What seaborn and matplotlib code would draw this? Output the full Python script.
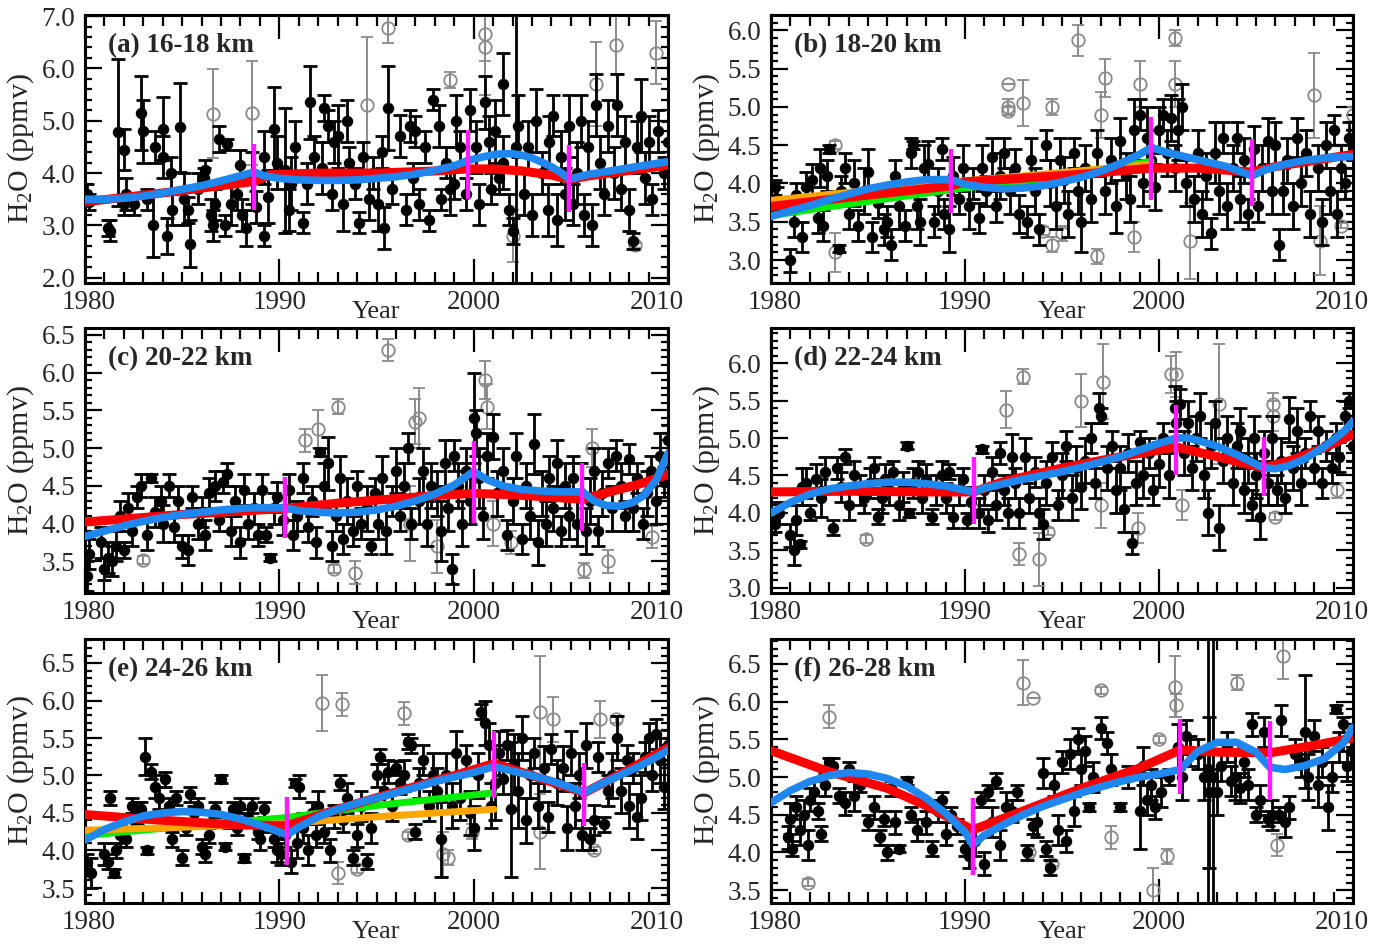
import matplotlib
matplotlib.use("Agg")
import matplotlib.pyplot as plt
import matplotlib.transforms as mtrans
from matplotlib.ticker import MultipleLocator, FormatStrFormatter, NullFormatter
import seaborn as sns

# ---------------- observations: (year, H2O ppmv, 1-sigma) ----------------
obs_a = [
    (1980.1, 3.6, 0.2), (1980.2, 3.45, 0.15), (1981.2, 2.95, 0.15), (1981.3, 2.9, 0.2),
    (1981.7, 4.78, 1.4), (1982.0, 4.45, 0.4), (1982.1, 3.6, 0.3), (1982.0, 3.4, 0.2),
    (1982.9, 5.15, 0.7), (1983.0, 4.8, 0.6), (1983.2, 3.5, 0.2), (1982.5, 3.4, 0.2),
    (1983.5, 3.0, 0.6), (1983.6, 4.5, 0.3), (1984.0, 4.85, 0.6), (1984.0, 4.3, 0.4),
    (1984.2, 2.8, 0.35), (1984.4, 4.0, 0.3), (1984.5, 3.3, 0.3), (1984.9, 4.88, 0.85),
    (1985.1, 3.5, 0.5), (1985.4, 2.65, 0.45), (1985.3, 3.3, 0.25), (1985.8, 3.7, 0.3),
    (1986.1, 3.9, 0.2), (1986.2, 4.05, 0.2), (1986.5, 3.2, 0.3), (1986.7, 3.4, 0.3),
    (1986.6, 3.0, 0.3), (1986.9, 4.65, 0.25), (1987.3, 4.55, 0.1), (1987.2, 3.0, 0.2),
    (1987.5, 3.4, 0.4), (1987.8, 3.6, 0.3), (1988.0, 4.15, 0.3), (1988.1, 3.2, 0.3),
    (1988.3, 2.95, 0.35), (1988.8, 3.35, 0.3), (1988.6, 3.9, 0.5), (1989.2, 2.8, 0.2),
    (1989.7, 4.85, 0.8), (1989.4, 3.55, 0.5), (1989.9, 4.2, 0.5), (1989.2, 4.3, 0.5),
    (1990.3, 4.05, 1.2), (1990.5, 3.3, 0.4), (1990.6, 3.8, 0.5), (1990.8, 4.5, 0.5),
    (1991.2, 3.05, 0.2), (1991.6, 5.35, 0.7), (1991.4, 3.8, 0.4), (1991.8, 4.3, 0.4),
    (1992.3, 5.25, 0.25), (1992.5, 4.9, 0.3), (1992.2, 4.1, 0.5), (1992.7, 3.6, 0.3),
    (1992.8, 4.6, 0.4), (1993.0, 4.7, 0.6), (1993.5, 5.0, 0.4), (1993.3, 3.4, 0.5),
    (1993.6, 4.2, 0.3), (1993.9, 3.8, 0.3), (1994.1, 3.05, 0.2), (1994.3, 4.3, 0.3),
    (1994.6, 3.5, 0.4), (1994.8, 4.0, 0.3), (1995.1, 3.4, 0.5), (1995.3, 4.4, 0.3),
    (1995.6, 5.25, 0.8), (1995.4, 2.95, 0.4), (1995.8, 3.7, 0.3), (1996.2, 4.7, 0.4),
    (1996.5, 3.3, 0.3), (1996.7, 4.9, 0.3), (1996.9, 3.9, 0.3), (1997.0, 4.8, 0.3),
    (1997.2, 3.4, 0.3), (1997.5, 4.5, 0.3), (1997.7, 3.1, 0.2), (1997.9, 5.4, 0.2),
    (1998.2, 4.9, 0.4), (1998.3, 3.5, 0.2), (1998.6, 4.2, 0.3), (1998.8, 3.7, 0.5),
    (1999.1, 5.0, 0.5), (1999.0, 3.8, 0.3), (1999.3, 4.5, 0.3), (1999.6, 3.6, 0.3),
    (1999.8, 5.2, 0.4), (2000.1, 4.5, 0.5), (2000.3, 3.4, 0.4), (2000.6, 5.35, 0.5),
    (2000.8, 4.6, 0.5), (2000.9, 3.7, 0.3), (2001.1, 4.8, 0.6), (2001.3, 3.9, 0.3),
    (2001.5, 4.2, 0.5), (2001.8, 3.3, 0.3), (2001.5, 5.7, 0.6), (2002.0, 2.9, 0.25),
    (2002.2, 4.5, 2.6), (2002.3, 4.9, 0.6), (2002.6, 3.6, 0.4), (2002.8, 4.5, 0.5),
    (2003.0, 3.2, 0.4), (2003.2, 5.0, 0.6), (2003.5, 4.0, 0.4), (2003.8, 3.3, 0.5),
    (2003.9, 4.6, 0.5), (2004.1, 5.1, 0.4), (2004.3, 3.1, 0.5), (2004.5, 4.3, 0.5),
    (2004.7, 3.6, 0.5), (2004.9, 4.9, 0.6), (2005.1, 3.4, 0.4), (2005.3, 4.0, 0.6),
    (2005.5, 5.0, 0.5), (2005.7, 3.2, 0.4), (2005.9, 4.5, 0.5), (2006.1, 3.0, 0.4),
    (2006.3, 5.3, 0.6), (2006.5, 4.2, 0.5), (2006.7, 3.6, 0.4), (2006.9, 4.9, 0.5),
    (2007.2, 4.0, 0.5), (2007.4, 5.3, 0.6), (2007.6, 3.7, 0.4), (2007.8, 4.6, 0.5),
    (2008.0, 3.3, 0.4), (2008.2, 2.7, 0.15), (2008.4, 4.5, 0.5), (2008.6, 5.1, 0.7),
    (2008.8, 3.9, 0.5), (2009.0, 4.6, 0.5), (2009.2, 3.5, 0.3), (2009.5, 4.8, 0.4),
    (2009.8, 4.0, 0.3), (2010.0, 4.6, 0.4),
]
out_a = [
    (1986.6, 5.13, 0.85), (1988.6, 5.15, 1.0), (1994.5, 5.3, 1.3), (1995.6, 6.78, 0.3),
    (1998.8, 5.78, 0.15), (2000.6, 6.65, 0.5), (2000.6, 6.4, 0.9), (2002.0, 2.8, 0.5),
    (2006.3, 5.7, 0.8), (2007.3, 6.45, 0.55), (2008.3, 2.62, 0.05), (2009.4, 6.3, 0.6),
]

obs_b = [
    (1980.2, 3.95, 0.1), (1980.3, 3.8, 0.15), (1981.0, 3.0, 0.15), (1981.2, 3.5, 0.2),
    (1981.3, 3.85, 0.15), (1981.6, 3.3, 0.2), (1981.8, 3.95, 0.2), (1982.1, 4.05, 0.2),
    (1982.4, 3.55, 0.2), (1982.7, 3.45, 0.2), (1982.9, 4.1, 0.2), (1982.5, 4.2, 0.25),
    (1983.0, 4.45, 0.05), (1983.5, 3.15, 0.05), (1983.6, 3.9, 0.2), (1983.8, 4.2, 0.2),
    (1984.0, 3.6, 0.2), (1984.3, 4.0, 0.3), (1984.5, 3.45, 0.2), (1984.8, 3.9, 0.3),
    (1985.0, 4.15, 0.3), (1985.2, 3.3, 0.2), (1985.5, 3.75, 0.2), (1985.8, 3.4, 0.2),
    (1986.0, 3.5, 0.2), (1986.2, 3.2, 0.2), (1986.4, 4.1, 0.2), (1986.6, 3.7, 0.3),
    (1986.9, 3.45, 0.2), (1987.2, 4.4, 0.2), (1987.3, 4.5, 0.05), (1987.5, 3.7, 0.3),
    (1987.7, 3.5, 0.3), (1987.9, 4.2, 0.3), (1988.1, 4.25, 0.3), (1988.4, 3.5, 0.2),
    (1988.6, 3.9, 0.3), (1988.8, 4.45, 0.15), (1988.9, 3.6, 0.2), (1989.2, 3.4, 0.3),
    (1989.4, 4.1, 0.25), (1989.7, 3.8, 0.2), (1989.9, 4.2, 0.3), (1990.2, 3.7, 0.3),
    (1990.4, 4.0, 0.2), (1990.7, 3.55, 0.2), (1990.9, 4.2, 0.3), (1991.1, 3.9, 0.2),
    (1991.4, 4.35, 0.25), (1991.6, 3.7, 0.2), (1991.8, 4.1, 0.3), (1992.0, 4.4, 0.2),
    (1992.3, 3.9, 0.3), (1992.6, 4.2, 0.25), (1992.8, 3.6, 0.25), (1993.2, 3.5, 0.2),
    (1993.4, 4.3, 0.3), (1993.6, 3.9, 0.3), (1993.8, 3.4, 0.2), (1994.2, 4.5, 0.2),
    (1994.4, 4.0, 0.3), (1994.7, 3.7, 0.3), (1994.9, 4.3, 0.3), (1995.1, 4.05, 0.3),
    (1995.3, 3.6, 0.3), (1995.6, 4.4, 0.2), (1995.8, 3.9, 0.3), (1996.0, 3.5, 0.4),
    (1996.2, 4.2, 0.3), (1996.5, 3.8, 0.3), (1996.8, 4.4, 0.3), (1997.2, 3.9, 0.3),
    (1997.5, 4.3, 0.3), (1997.8, 3.7, 0.35), (1998.0, 4.55, 0.3), (1998.3, 4.1, 0.3),
    (1998.5, 3.8, 0.3), (1998.7, 4.7, 0.4), (1999.0, 4.9, 0.2), (1999.2, 4.0, 0.3),
    (1999.4, 4.6, 0.4), (1999.6, 4.3, 0.4), (1999.8, 3.95, 0.3), (2000.0, 4.7, 0.3),
    (2000.2, 4.9, 0.2), (2000.4, 4.4, 0.3), (2000.6, 4.85, 0.3), (2000.8, 4.2, 0.3),
    (2001.0, 4.7, 0.4), (2001.2, 5.0, 0.3), (2001.4, 4.0, 0.3), (2001.8, 3.8, 0.3),
    (2002.0, 4.4, 0.3), (2002.2, 3.6, 0.3), (2002.4, 4.1, 0.3), (2002.7, 3.35, 0.2),
    (2002.9, 4.4, 0.4), (2003.1, 3.9, 0.3), (2003.3, 4.6, 0.2), (2003.5, 3.7, 0.3),
    (2003.8, 4.2, 0.3), (2004.0, 4.6, 0.2), (2004.2, 3.8, 0.3), (2004.4, 4.3, 0.3),
    (2004.6, 3.6, 0.2), (2004.9, 4.45, 0.3), (2005.1, 3.7, 0.2), (2005.3, 4.2, 0.3),
    (2005.6, 4.55, 0.3), (2005.8, 3.9, 0.3), (2006.0, 4.5, 0.3), (2006.2, 3.2, 0.2),
    (2006.4, 3.9, 0.3), (2006.6, 4.3, 0.3), (2006.9, 3.7, 0.3), (2007.1, 4.6, 0.25),
    (2007.3, 4.0, 0.3), (2007.6, 4.4, 0.3), (2007.8, 3.6, 0.3), (2008.2, 4.2, 0.3),
    (2008.4, 3.5, 0.3), (2008.6, 4.5, 0.3), (2008.8, 3.9, 0.3), (2009.0, 4.7, 0.2),
    (2009.2, 3.6, 0.3), (2009.4, 4.2, 0.3), (2009.6, 4.0, 0.2), (2009.8, 4.6, 0.2),
    (2010.0, 4.5, 0.2),
]
out_b = [
    (1983.3, 4.5, 0.05), (1983.3, 3.1, 0.25), (1992.2, 5.3, 0.0), (1992.2, 5.0, 0.1),
    (1992.2, 4.95, 0.05), (1993.0, 5.05, 0.3), (1994.0, 3.38, 0.05), (1994.5, 3.2, 0.1),
    (1994.5, 5.0, 0.1), (1995.0, 3.35, 0.1), (1995.8, 5.87, 0.2), (1996.8, 3.05, 0.1),
    (1997.0, 4.9, 0.3), (1997.2, 5.38, 0.25), (1998.7, 3.3, 0.2), (1999.0, 5.3, 0.3),
    (2000.8, 5.9, 0.1), (2000.8, 5.3, 0.3), (2001.6, 3.25, 0.5), (2008.0, 5.15, 0.55),
    (2008.3, 3.25, 0.45), (2009.4, 3.45, 0.03), (2010.0, 4.9, 0.1),
]

obs_c = [
    (1980.1, 3.3, 0.2), (1980.2, 3.6, 0.2), (1980.8, 3.75, 0.2), (1981.0, 3.4, 0.15),
    (1981.2, 3.55, 0.2), (1981.4, 3.5, 0.2), (1981.6, 3.7, 0.2), (1981.8, 4.1, 0.2),
    (1982.0, 3.65, 0.1), (1982.2, 4.2, 0.2), (1982.4, 3.9, 0.2), (1982.7, 4.35, 0.15),
    (1982.9, 4.5, 0.15), (1983.2, 3.85, 0.2), (1983.4, 4.6, 0.05), (1983.6, 4.15, 0.2),
    (1983.9, 4.3, 0.2), (1984.0, 4.0, 0.25), (1984.3, 4.5, 0.15), (1984.6, 3.95, 0.2),
    (1984.8, 4.3, 0.2), (1985.0, 3.7, 0.15), (1985.3, 3.65, 0.2), (1985.5, 4.35, 0.15),
    (1985.8, 4.0, 0.2), (1986.0, 4.15, 0.2), (1986.2, 3.85, 0.2), (1986.4, 4.4, 0.2),
    (1986.7, 4.5, 0.2), (1986.9, 4.05, 0.15), (1987.1, 4.55, 0.15), (1987.3, 4.65, 0.15),
    (1987.5, 3.9, 0.2), (1987.7, 4.3, 0.2), (1988.0, 3.75, 0.2), (1988.2, 4.45, 0.2),
    (1988.4, 4.0, 0.2), (1988.7, 4.2, 0.2), (1988.9, 3.85, 0.15), (1989.1, 4.45, 0.2),
    (1989.3, 3.85, 0.1), (1989.5, 3.55, 0.05), (1989.7, 4.2, 0.2), (1989.9, 4.35, 0.2),
    (1990.2, 4.05, 0.2), (1990.5, 4.45, 0.2), (1990.7, 3.85, 0.2), (1990.9, 4.1, 0.2),
    (1991.2, 4.6, 0.2), (1991.5, 3.95, 0.2), (1991.7, 4.3, 0.2), (1991.9, 3.75, 0.2),
    (1992.1, 4.95, 0.05), (1992.3, 4.5, 0.3), (1992.5, 4.8, 0.35), (1992.7, 3.7, 0.2),
    (1992.9, 4.1, 0.2), (1993.1, 4.6, 0.3), (1993.3, 3.8, 0.2), (1993.5, 4.3, 0.3),
    (1993.8, 3.9, 0.2), (1994.0, 4.5, 0.2), (1994.2, 4.0, 0.2), (1994.5, 4.2, 0.3),
    (1994.7, 3.7, 0.1), (1994.9, 4.4, 0.2), (1995.1, 4.0, 0.2), (1995.3, 4.6, 0.3),
    (1995.5, 3.9, 0.3), (1995.8, 4.3, 0.2), (1996.0, 4.7, 0.3), (1996.2, 4.1, 0.2),
    (1996.4, 4.5, 0.3), (1996.6, 5.0, 0.2), (1996.8, 4.0, 0.2), (1997.2, 4.3, 0.3),
    (1997.4, 4.7, 0.3), (1997.6, 4.0, 0.3), (1997.8, 4.5, 0.3), (1998.1, 4.4, 0.3),
    (1998.3, 3.9, 0.4), (1998.5, 4.8, 0.3), (1998.7, 4.2, 0.3), (1998.9, 3.4, 0.2),
    (1999.0, 4.9, 0.2), (1999.2, 4.5, 0.3), (1999.4, 4.0, 0.3), (1999.6, 4.7, 0.3),
    (1999.8, 4.3, 0.3), (2000.0, 5.4, 0.6), (2000.1, 5.2, 0.3), (2000.3, 4.6, 0.4),
    (2000.5, 4.1, 0.3), (2000.7, 4.9, 0.3), (2001.0, 5.15, 0.3), (2001.2, 4.4, 0.3),
    (2001.5, 4.7, 0.3), (2001.7, 3.85, 0.2), (2002.0, 4.3, 0.3), (2002.2, 4.9, 0.3),
    (2002.5, 3.8, 0.2), (2002.7, 4.5, 0.3), (2002.9, 4.1, 0.3), (2003.1, 5.05, 0.4),
    (2003.3, 3.75, 0.3), (2003.5, 4.4, 0.3), (2003.7, 4.0, 0.3), (2003.9, 4.6, 0.3),
    (2004.1, 4.2, 0.3), (2004.3, 4.8, 0.3), (2004.5, 3.9, 0.2), (2004.7, 4.5, 0.3),
    (2004.9, 4.1, 0.3), (2005.1, 4.6, 0.3), (2005.3, 4.0, 0.3), (2005.5, 4.4, 0.4),
    (2005.8, 3.9, 0.3), (2006.0, 4.3, 0.3), (2006.2, 4.7, 0.3), (2006.4, 3.9, 0.2),
    (2006.6, 4.4, 0.3), (2006.9, 4.8, 0.2), (2007.1, 4.2, 0.3), (2007.3, 4.9, 0.2),
    (2007.6, 4.5, 0.3), (2007.8, 4.1, 0.2), (2008.0, 4.85, 0.2), (2008.2, 4.2, 0.3),
    (2008.4, 4.6, 0.2), (2008.7, 4.0, 0.2), (2008.9, 4.4, 0.3), (2009.1, 4.7, 0.2),
    (2009.4, 4.3, 0.3), (2009.6, 4.9, 0.3), (2009.8, 4.55, 0.2), (2010.0, 5.1, 0.2),
]
out_c = [
    (1983.0, 3.52, 0.05), (1991.3, 5.1, 0.15), (1992.0, 5.25, 0.25), (1992.8, 3.4, 0.05),
    (1993.0, 5.55, 0.1), (1993.9, 3.35, 0.15), (1995.6, 6.3, 0.15), (1996.7, 4.0, 0.5),
    (1997.0, 5.35, 0.3), (1997.2, 5.4, 0.4), (1998.1, 3.7, 0.35), (2000.6, 5.9, 0.25),
    (2000.7, 5.55, 0.3), (2001.0, 4.0, 0.3), (2001.9, 3.75, 0.15), (2005.7, 3.38, 0.1),
    (2006.1, 5.0, 0.25), (2006.9, 3.5, 0.15), (2009.2, 3.82, 0.15),
]

obs_d = [
    (1980.2, 3.85, 0.1), (1980.4, 4.0, 0.15), (1981.0, 3.7, 0.15), (1981.2, 3.5, 0.2),
    (1981.3, 3.9, 0.2), (1981.5, 3.58, 0.05), (1981.6, 4.35, 0.25), (1981.8, 4.4, 0.2),
    (1982.0, 4.0, 0.1), (1982.3, 4.45, 0.2), (1982.6, 4.2, 0.25), (1982.8, 4.55, 0.2),
    (1983.2, 3.8, 0.1), (1983.4, 4.6, 0.15), (1983.6, 4.35, 0.2), (1983.8, 4.75, 0.1),
    (1984.0, 4.1, 0.2), (1984.3, 4.5, 0.2), (1984.6, 4.3, 0.2), (1984.8, 4.2, 0.2),
    (1985.1, 4.4, 0.2), (1985.3, 4.6, 0.15), (1985.5, 3.95, 0.1), (1985.7, 4.2, 0.2),
    (1985.9, 4.45, 0.2), (1986.1, 4.3, 0.2), (1986.3, 4.55, 0.15), (1986.6, 4.1, 0.2),
    (1986.8, 4.35, 0.2), (1987.0, 4.9, 0.05), (1987.1, 4.0, 0.05), (1987.3, 4.4, 0.2),
    (1987.6, 4.55, 0.15), (1987.8, 4.2, 0.2), (1988.0, 4.45, 0.2), (1988.3, 3.95, 0.1),
    (1988.5, 4.3, 0.2), (1988.8, 4.5, 0.2), (1989.0, 4.2, 0.2), (1989.2, 4.55, 0.1),
    (1989.4, 3.95, 0.15), (1989.7, 4.3, 0.2), (1989.9, 4.45, 0.15), (1990.1, 3.9, 0.1),
    (1990.3, 4.15, 0.2), (1990.7, 4.0, 0.2), (1990.9, 4.85, 0.05), (1991.0, 4.3, 0.2),
    (1991.2, 3.9, 0.15), (1991.4, 4.55, 0.2), (1991.6, 4.1, 0.2), (1991.8, 4.8, 0.15),
    (1992.0, 4.3, 0.2), (1992.2, 4.0, 0.2), (1992.4, 4.75, 0.3), (1992.6, 4.4, 0.2),
    (1992.8, 4.0, 0.2), (1993.1, 4.75, 0.25), (1993.3, 4.2, 0.2), (1993.6, 4.55, 0.2),
    (1993.8, 4.0, 0.2), (1994.0, 3.85, 0.2), (1994.2, 4.4, 0.3), (1994.5, 4.75, 0.2),
    (1994.8, 4.1, 0.2), (1995.0, 4.5, 0.3), (1995.2, 4.9, 0.2), (1995.5, 4.2, 0.3),
    (1995.7, 4.6, 0.3), (1996.0, 4.35, 0.3), (1996.2, 4.7, 0.3), (1996.5, 5.0, 0.2),
    (1996.7, 4.4, 0.2), (1996.9, 5.4, 0.2), (1997.0, 5.3, 0.1), (1997.3, 4.6, 0.3),
    (1997.6, 4.9, 0.2), (1997.8, 4.3, 0.3), (1998.0, 4.6, 0.3), (1998.2, 4.05, 0.3),
    (1998.4, 4.8, 0.25), (1998.6, 3.6, 0.15), (1998.8, 4.4, 0.3), (1999.0, 4.95, 0.15),
    (1999.2, 4.5, 0.3), (1999.5, 4.8, 0.2), (1999.7, 4.3, 0.2), (2000.0, 4.65, 0.3),
    (2000.2, 5.0, 0.2), (2000.5, 4.5, 0.3), (2000.8, 5.4, 0.3), (2000.9, 5.2, 0.3),
    (2001.1, 5.45, 0.2), (2001.3, 4.8, 0.3), (2001.5, 5.2, 0.3), (2001.7, 4.6, 0.3),
    (2001.9, 5.0, 0.3), (2002.1, 5.3, 0.3), (2002.3, 4.5, 0.3), (2002.5, 4.0, 0.3),
    (2002.7, 4.9, 0.3), (2002.9, 5.2, 0.3), (2003.1, 3.8, 0.3), (2003.3, 4.7, 0.3),
    (2003.5, 5.0, 0.3), (2003.8, 4.4, 0.3), (2004.0, 4.9, 0.3), (2004.2, 5.1, 0.3),
    (2004.4, 4.3, 0.3), (2004.6, 4.7, 0.3), (2004.8, 4.1, 0.2), (2004.9, 5.0, 0.3),
    (2005.0, 4.5, 0.3), (2005.2, 3.95, 0.3), (2005.4, 4.8, 0.3), (2005.6, 4.4, 0.3),
    (2005.8, 5.0, 0.3), (2006.1, 4.3, 0.2), (2006.3, 4.7, 0.3), (2006.5, 4.2, 0.2),
    (2006.7, 5.25, 0.3), (2006.9, 4.6, 0.3), (2007.1, 5.1, 0.3), (2007.3, 4.4, 0.3),
    (2007.5, 4.8, 0.2), (2007.8, 5.3, 0.2), (2008.0, 4.6, 0.2), (2008.2, 5.1, 0.2),
    (2008.4, 4.4, 0.2), (2008.6, 4.9, 0.2), (2008.9, 4.6, 0.2), (2009.1, 5.0, 0.2),
    (2009.3, 4.75, 0.2), (2009.6, 5.3, 0.2), (2009.8, 5.5, 0.1), (2010.0, 4.9, 0.2),
]
out_d = [
    (1984.9, 3.65, 0.05), (1992.1, 5.38, 0.25), (1992.8, 3.45, 0.15), (1993.0, 5.82, 0.1),
    (1993.8, 3.38, 0.35), (1994.3, 3.75, 0.05), (1996.0, 5.5, 0.35), (1997.0, 4.1, 0.3),
    (1997.1, 5.75, 0.5), (1998.9, 3.8, 0.2), (2000.6, 5.85, 0.25), (2000.9, 5.85, 0.3),
    (2001.2, 4.1, 0.2), (2003.1, 5.45, 0.8), (2005.9, 5.45, 0.15), (2005.9, 5.3, 0.2),
    (2006.0, 3.95, 0.05), (2009.2, 4.3, 0.1),
]

obs_e = [
    (1980.1, 3.85, 0.1), (1980.3, 3.7, 0.2), (1981.0, 3.95, 0.15), (1981.2, 3.85, 0.1),
    (1981.3, 4.7, 0.1), (1981.5, 3.7, 0.05), (1981.6, 4.0, 0.1), (1981.8, 4.2, 0.15),
    (1982.1, 4.15, 0.1), (1982.4, 4.6, 0.1), (1982.7, 4.5, 0.15), (1982.9, 4.55, 0.1),
    (1983.1, 5.25, 0.25), (1983.2, 4.0, 0.05), (1983.4, 5.05, 0.1), (1983.6, 4.85, 0.15),
    (1983.8, 4.7, 0.15), (1984.1, 4.95, 0.1), (1984.3, 4.6, 0.1), (1984.5, 4.15, 0.1),
    (1984.7, 4.7, 0.1), (1985.0, 3.9, 0.1), (1985.2, 4.3, 0.1), (1985.4, 4.75, 0.1),
    (1985.6, 4.5, 0.1), (1985.8, 4.6, 0.1), (1986.0, 4.05, 0.1), (1986.2, 3.95, 0.1),
    (1986.4, 4.2, 0.1), (1986.7, 4.55, 0.1), (1987.0, 4.95, 0.05), (1987.2, 4.05, 0.05),
    (1987.4, 4.4, 0.1), (1987.6, 4.55, 0.1), (1987.8, 4.3, 0.1), (1988.0, 4.6, 0.1),
    (1988.2, 3.9, 0.05), (1988.4, 4.45, 0.1), (1988.6, 4.6, 0.1), (1988.9, 4.25, 0.1),
    (1989.0, 4.15, 0.15), (1989.2, 4.55, 0.1), (1989.5, 4.35, 0.1), (1989.7, 4.15, 0.1),
    (1989.9, 4.0, 0.15), (1990.1, 3.95, 0.15), (1990.3, 4.2, 0.15), (1990.6, 3.85, 0.15),
    (1990.8, 4.9, 0.05), (1990.9, 4.1, 0.2), (1991.0, 4.85, 0.15), (1991.2, 4.3, 0.2),
    (1991.5, 4.0, 0.2), (1991.7, 4.5, 0.15), (1991.9, 4.2, 0.15), (1992.0, 4.6, 0.2),
    (1992.3, 4.25, 0.15), (1992.6, 4.0, 0.15), (1992.8, 4.45, 0.15), (1993.1, 4.9, 0.1),
    (1993.3, 4.4, 0.15), (1993.5, 4.7, 0.2), (1993.8, 3.9, 0.1), (1994.0, 4.2, 0.15),
    (1994.2, 4.6, 0.2), (1994.5, 3.85, 0.1), (1994.7, 4.3, 0.2), (1995.0, 5.0, 0.15),
    (1995.2, 5.25, 0.1), (1995.4, 4.8, 0.2), (1995.6, 5.05, 0.15), (1995.8, 4.6, 0.2),
    (1996.0, 5.1, 0.1), (1996.2, 4.9, 0.15), (1996.4, 5.0, 0.2), (1996.6, 5.45, 0.1),
    (1996.8, 5.4, 0.1), (1997.0, 4.25, 0.1), (1997.2, 4.9, 0.2), (1997.4, 5.2, 0.2),
    (1997.7, 4.6, 0.2), (1997.9, 5.0, 0.3), (1998.1, 4.8, 0.3), (1998.3, 4.15, 0.5),
    (1998.6, 5.0, 0.3), (1998.9, 4.6, 0.3), (1999.1, 5.3, 0.3), (1999.3, 4.7, 0.3),
    (1999.6, 5.2, 0.2), (1999.8, 4.5, 0.3), (2000.0, 4.3, 0.3), (2000.2, 5.0, 0.3),
    (2000.4, 5.85, 0.1), (2000.6, 5.7, 0.3), (2000.8, 5.4, 0.3), (2000.9, 4.6, 0.3),
    (2001.1, 4.9, 0.5), (2001.3, 5.3, 0.3), (2001.5, 4.95, 0.2), (2001.7, 5.4, 0.2),
    (2001.9, 4.55, 0.9), (2002.1, 5.15, 0.4), (2002.3, 4.8, 0.5), (2002.5, 5.5, 0.3),
    (2002.7, 4.4, 0.3), (2002.9, 5.0, 0.3), (2003.1, 5.3, 0.2), (2003.3, 4.6, 0.3),
    (2003.6, 5.1, 0.3), (2003.8, 4.45, 0.2), (2004.0, 5.35, 0.2), (2004.3, 4.9, 0.3),
    (2004.6, 5.1, 0.3), (2004.8, 4.3, 0.3), (2005.0, 5.3, 0.3), (2005.2, 4.6, 0.3),
    (2005.4, 5.0, 0.3), (2005.6, 4.2, 0.2), (2005.8, 5.4, 0.3), (2006.0, 4.15, 0.15),
    (2006.2, 4.4, 0.2), (2006.4, 5.25, 0.2), (2006.7, 4.35, 0.1), (2006.9, 4.8, 0.2),
    (2007.1, 5.0, 0.3), (2007.4, 5.5, 0.3), (2007.6, 4.8, 0.3), (2007.9, 5.2, 0.2),
    (2008.0, 4.6, 0.3), (2008.2, 5.1, 0.2), (2008.4, 4.45, 0.3), (2008.6, 4.7, 0.3),
    (2008.8, 5.25, 0.2), (2009.0, 5.5, 0.2), (2009.2, 5.0, 0.2), (2009.4, 5.55, 0.2),
    (2009.6, 5.2, 0.3), (2009.8, 4.85, 0.3), (2010.0, 5.4, 0.2),
]
out_e = [
    (1992.2, 5.97, 0.37), (1993.0, 3.7, 0.15), (1993.2, 5.95, 0.15), (1994.0, 3.75, 0.05),
    (1996.4, 5.83, 0.15), (1996.6, 4.2, 0.05), (1998.4, 3.95, 0.3), (1998.7, 3.9, 0.1),
    (1999.9, 4.25, 0.1), (2003.4, 5.85, 0.75), (2003.4, 4.25, 0.5), (2004.1, 5.75, 0.3),
    (2006.2, 4.0, 0.05), (2006.5, 5.75, 0.25), (2007.3, 5.75, 0.05),
]

obs_f = [
    (1980.9, 4.2, 0.15), (1981.0, 4.45, 0.2), (1981.1, 4.05, 0.1), (1981.3, 4.6, 0.15),
    (1981.5, 4.3, 0.2), (1981.7, 4.5, 0.2), (1981.9, 4.1, 0.2), (1982.0, 4.7, 0.15),
    (1982.2, 4.8, 0.15), (1982.4, 4.55, 0.1), (1982.6, 4.25, 0.1), (1982.8, 4.9, 0.15),
    (1983.0, 5.2, 0.05), (1983.2, 5.15, 0.1), (1983.5, 4.75, 0.1), (1983.8, 4.65, 0.15),
    (1984.0, 5.1, 0.1), (1984.3, 4.75, 0.2), (1984.6, 4.9, 0.1), (1985.0, 4.4, 0.1),
    (1985.3, 4.6, 0.15), (1985.6, 4.2, 0.1), (1985.8, 4.45, 0.1), (1986.0, 4.0, 0.1),
    (1986.2, 4.85, 0.1), (1986.4, 4.4, 0.15), (1986.6, 4.05, 0.05), (1987.0, 4.95, 0.05),
    (1987.2, 4.5, 0.1), (1987.5, 4.3, 0.15), (1988.0, 4.4, 0.15), (1988.3, 4.05, 0.1),
    (1988.6, 4.55, 0.15), (1988.8, 4.7, 0.1), (1989.0, 4.25, 0.15), (1989.3, 4.5, 0.1),
    (1989.6, 4.35, 0.1), (1990.0, 4.05, 0.1), (1990.2, 3.95, 0.15), (1990.5, 4.15, 0.2),
    (1990.8, 4.7, 0.1), (1991.0, 3.85, 0.15), (1991.2, 4.8, 0.1), (1991.4, 4.4, 0.2),
    (1991.6, 4.95, 0.1), (1991.8, 4.1, 0.2), (1992.1, 4.6, 0.2), (1992.4, 4.55, 0.15),
    (1992.7, 4.8, 0.1), (1993.2, 4.0, 0.1), (1993.5, 4.35, 0.1), (1993.7, 4.4, 0.2),
    (1994.0, 5.05, 0.2), (1994.2, 4.05, 0.1), (1994.4, 3.8, 0.1), (1994.6, 4.9, 0.15),
    (1994.8, 4.3, 0.2), (1995.0, 5.2, 0.15), (1995.2, 4.15, 0.15), (1995.4, 5.3, 0.2),
    (1995.6, 4.55, 0.2), (1995.8, 5.5, 0.15), (1996.0, 5.1, 0.2), (1996.2, 5.35, 0.2),
    (1996.4, 4.6, 0.05), (1996.6, 5.0, 0.2), (1997.0, 5.65, 0.15), (1997.3, 5.45, 0.15),
    (1997.5, 5.1, 0.2), (1998.0, 4.6, 0.05), (1998.4, 5.0, 0.15), (1999.0, 4.55, 0.5),
    (1999.2, 5.15, 0.25), (1999.4, 4.7, 0.2), (1999.6, 4.9, 0.2), (1999.8, 4.6, 0.15),
    (2000.1, 4.8, 0.2), (2000.5, 5.0, 0.1), (2001.0, 5.4, 0.3), (2001.2, 5.0, 0.3),
    (2001.4, 5.55, 0.2), (2001.6, 5.35, 0.2), (2002.0, 5.3, 0.2), (2002.3, 5.0, 0.3),
    (2002.5, 5.1, 2.6), (2002.6, 4.8, 1.0), (2002.8, 5.0, 2.6), (2003.0, 4.8, 0.3),
    (2003.2, 5.15, 0.2), (2003.5, 5.4, 0.2), (2003.7, 4.95, 0.2), (2003.9, 5.0, 0.3),
    (2004.2, 4.85, 0.2), (2004.4, 5.2, 0.2), (2004.6, 4.9, 0.2), (2004.8, 5.7, 0.15),
    (2005.0, 4.5, 0.1), (2005.2, 4.7, 0.2), (2005.4, 5.6, 0.2), (2005.6, 4.45, 0.1),
    (2005.8, 4.5, 0.2), (2006.2, 4.5, 0.1), (2006.3, 5.75, 0.2), (2006.5, 4.4, 0.2),
    (2006.7, 4.6, 0.15), (2007.0, 5.3, 0.2), (2007.3, 5.2, 0.2), (2007.5, 5.6, 0.75),
    (2007.7, 5.0, 0.3), (2008.0, 5.55, 0.2), (2008.2, 4.9, 0.3), (2008.4, 5.2, 0.2),
    (2008.7, 4.6, 0.3), (2008.9, 5.0, 0.2), (2009.1, 5.9, 0.05), (2009.3, 5.4, 0.2),
    (2009.5, 5.7, 0.1), (2009.7, 5.15, 0.2), (2009.9, 5.35, 0.2),
]
out_f = [
    (1981.9, 3.6, 0.05), (1983.0, 5.8, 0.15), (1993.0, 6.25, 0.3), (1993.5, 6.05, 0.0),
    (1993.3, 4.0, 0.03), (1994.5, 3.85, 0.03), (1997.0, 6.15, 0.05), (1997.5, 4.2, 0.15),
    (1999.7, 3.5, 0.3), (2000.0, 5.5, 0.05), (2000.4, 3.95, 0.1), (2000.8, 6.2, 0.4),
    (2000.9, 5.95, 0.15), (2004.0, 6.25, 0.1), (2006.1, 4.1, 0.15), (2006.4, 6.6, 0.3),
]

# ---------------- fitted curves ----------------
blue_a_yr = [1980, 1981, 1982, 1983, 1984, 1985, 1986, 1987, 1988, 1988.7, 1989.2, 1990,
             1991, 1992, 1993, 1994, 1995, 1996, 1997, 1998, 1999, 1999.7, 2000.5, 2001,
             2001.5, 2002, 2002.5, 2003, 2003.5, 2004, 2004.5, 2004.9, 2005.5, 2006, 2007,
             2008, 2009, 2010]
blue_a = [3.5, 3.5, 3.52, 3.56, 3.62, 3.69, 3.76, 3.85, 3.95, 4.02, 3.95, 3.90, 3.87, 3.86,
          3.86, 3.87, 3.90, 3.93, 3.98, 4.05, 4.14, 4.24, 4.31, 4.35, 4.37, 4.37, 4.34, 4.29,
          4.21, 4.12, 4.01, 3.88, 3.94, 3.98, 4.04, 4.10, 4.16, 4.22]
red_a_yr = [1980, 1984, 1988.7, 1989.5, 1992, 1995, 1998, 1999.7, 2001, 2002.5, 2004,
            2004.9, 2006, 2008, 2010]
red_a = [3.45, 3.62, 3.84, 3.97, 4.0, 4.0, 4.04, 4.08, 4.08, 4.04, 3.96, 3.88, 3.95, 4.05, 4.15]

blue_b_yr = [1980, 1981, 1982, 1983, 1984, 1985, 1986, 1987, 1988, 1989.3, 1990, 1991, 1992,
             1993, 1994, 1995, 1996, 1997, 1998, 1999, 1999.6, 2000.5, 2001.5, 2002.5,
             2003.5, 2004.8, 2005.5, 2006.5, 2007.5, 2008.5, 2009.5, 2010]
blue_b = [3.57, 3.64, 3.71, 3.79, 3.86, 3.93, 3.98, 4.02, 4.05, 4.05, 3.99, 3.95, 3.93, 3.94,
          3.97, 4.02, 4.08, 4.16, 4.26, 4.38, 4.47, 4.40, 4.34, 4.28, 4.22, 4.10, 4.18, 4.25,
          4.30, 4.33, 4.35, 4.35]
red_b_yr = [1980, 1984, 1989.3, 1990, 1993, 1996, 1999.6, 2002, 2004.8, 2006, 2008, 2010]
red_b = [3.70, 3.82, 3.97, 4.02, 4.07, 4.12, 4.20, 4.20, 4.15, 4.22, 4.30, 4.38]
green_b_yr = [1980, 1982.6, 1988.2, 1989.3, 1994, 1999.6]
green_b = [3.58, 3.68, 3.88, 3.92, 4.06, 4.29]
orange_b_yr = [1980, 1989.3, 1994, 1999.6]
orange_b = [3.78, 4.02, 4.12, 4.25]

blue_c_yr = [1980, 1981, 1982, 1983, 1984, 1985, 1986, 1987, 1988, 1989, 1990.3, 1991, 1992,
             1993, 1994, 1995, 1996, 1997, 1998, 1999, 2000.0, 2000.7, 2001.5, 2002.5,
             2003.5, 2004.5, 2005.6, 2006.2, 2006.8, 2007.5, 2008.2, 2008.8, 2009.4, 2010]
blue_c = [3.83, 3.9, 3.97, 4.03, 4.08, 4.12, 4.15, 4.18, 4.20, 4.21, 4.21, 4.17, 4.15, 4.14,
          4.15, 4.18, 4.23, 4.30, 4.39, 4.51, 4.69, 4.58, 4.50, 4.45, 4.43, 4.42, 4.42, 4.30,
          4.24, 4.23, 4.28, 4.38, 4.58, 4.93]
red_c_yr = [1980, 1985, 1990.3, 1993, 1996, 1998, 2000.0, 2002, 2004, 2005.6, 2007, 2008.5, 2010]
red_c = [4.02, 4.12, 4.2, 4.27, 4.33, 4.37, 4.4, 4.38, 4.35, 4.32, 4.42, 4.52, 4.65]

blue_d_yr = [1980, 1981, 1982, 1983, 1984, 1985, 1986, 1987, 1988, 1989, 1990.45, 1991, 1992,
             1993, 1994, 1995, 1996, 1997, 1998, 1999, 2000, 2000.9, 2001.5, 2002, 2003, 2004,
             2005.4, 2006, 2006.7, 2007.5, 2008.5, 2009.5, 2010]
blue_d = [4.0, 4.14, 4.25, 4.32, 4.36, 4.39, 4.41, 4.41, 4.39, 4.36, 4.28, 4.33, 4.39, 4.45,
          4.5, 4.55, 4.61, 4.68, 4.75, 4.84, 4.93, 5.0, 5.0, 4.97, 4.89, 4.78, 4.6, 4.59, 4.63,
          4.72, 4.88, 5.08, 5.22]
red_d_yr = [1980, 1984, 1988, 1990.45, 1992, 1995, 1998, 2000.9, 2003, 2005.4, 2007, 2008.5, 2010]
red_d = [4.28, 4.29, 4.28, 4.28, 4.42, 4.6, 4.75, 4.88, 4.75, 4.6, 4.72, 4.87, 5.05]

blue_e_yr = [1980, 1981, 1982, 1983, 1984, 1985, 1986, 1987, 1988, 1989, 1990.4, 1991, 1992,
             1993, 1994, 1995, 1996, 1997, 1998, 1999, 2000, 2001.05, 2002, 2003, 2004, 2005,
             2005.7, 2006.5, 2007.5, 2008.5, 2009.5, 2010]
blue_e = [4.14, 4.28, 4.38, 4.46, 4.5, 4.52, 4.51, 4.48, 4.42, 4.34, 4.21, 4.31, 4.45, 4.55,
          4.63, 4.7, 4.77, 4.84, 4.92, 4.98, 5.04, 5.12, 5.06, 5.0, 4.93, 4.84, 4.77, 4.88,
          5.0, 5.12, 5.26, 5.34]
red_e_yr = [1980, 1983, 1986, 1988, 1990.4, 1993, 1996, 1999, 2001.05, 2003, 2005.7, 2008, 2010]
red_e = [4.48, 4.42, 4.37, 4.34, 4.33, 4.55, 4.78, 5.0, 5.16, 5.0, 4.77, 5.08, 5.37]
green_e_yr = [1980, 1985, 1990.4, 1995, 2001.05]
green_e = [4.2, 4.32, 4.44, 4.6, 4.77]
orange_e_yr = [1980, 1985, 1990.4, 1995, 2001.05]
orange_e = [4.27, 4.31, 4.36, 4.45, 4.55]

blue_f_yr = [1980, 1981, 1982, 1983, 1984, 1985, 1986, 1987, 1988, 1989, 1990, 1990.4, 1991,
             1992, 1993, 1994, 1995, 1996, 1997, 1998, 1999, 2000, 2001.1, 2002, 2003, 2004,
             2005, 2005.7, 2006.5, 2007.5, 2008.5, 2009.5, 2010]
blue_f = [4.66, 4.82, 4.94, 5.02, 5.06, 5.04, 4.98, 4.88, 4.72, 4.52, 4.27, 4.10, 4.23, 4.37,
          4.5, 4.61, 4.7, 4.79, 4.87, 4.94, 5.0, 5.04, 5.1, 5.34, 5.46, 5.46, 5.33, 5.13, 5.1,
          5.15, 5.24, 5.45, 5.66]
red_f_yr = [1980, 1983, 1986, 1988, 1990.4, 1993, 1996, 1999, 2001.1, 2003, 2005.7, 2008, 2010]
red_f = [5.35, 5.07, 4.85, 4.62, 4.3, 4.55, 4.85, 5.12, 5.36, 5.33, 5.32, 5.42, 5.52]

# break points: (year, lower, upper)
breaks_a = [(1988.7, 3.3, 4.55), (1999.7, 3.5, 4.82), (2004.9, 3.25, 4.53)]
breaks_b = [(1989.3, 3.62, 4.45), (1999.6, 3.79, 4.87), (2004.8, 3.7, 4.58)]
breaks_c = [(1990.3, 3.81, 4.62), (2000.0, 4.01, 5.09), (2005.6, 3.9, 4.8)]
breaks_d = [(1990.45, 3.85, 4.75), (2000.9, 4.5, 5.44), (2005.4, 4.23, 5.01)]
breaks_e = [(1990.4, 3.81, 4.72), (2001.05, 4.7, 5.59), (2005.7, 4.32, 5.17)]
breaks_f = [(1990.4, 3.7, 4.72), (2001.1, 4.77, 5.77), (2005.7, 4.7, 5.74)]

titles = ["(a) 16-18 km", "(b) 18-20 km", "(c) 20-22 km",
          "(d) 22-24 km", "(e) 24-26 km", "(f) 26-28 km"]
year_ticks = [1980, 1990, 2000, 2010]
year_labels = ["1980", "1990", "2000", "2010"]
ylims = [(1.9, 7.02), (2.7, 6.2), (3.08, 6.59), (2.93, 6.47), (3.3, 6.82), (3.33, 6.83)]
ymajor = [1.0, 0.5, 0.5, 0.5, 0.5, 0.5]
yminor = [0.2, 0.1, 0.1, 0.1, 0.1, 0.1]

# ---------------- styling ----------------
sns.set_style("ticks")
plt.rcParams["font.family"] = ["Liberation Serif", "DejaVu Serif"]
plt.rcParams["mathtext.fontset"] = "custom"
plt.rcParams["mathtext.rm"] = "Liberation Serif"
plt.rcParams["mathtext.it"] = "Liberation Serif:italic"

BLUE = "#1e88f0"
RED = "#ff0000"
GREEN = "#00ee00"
ORANGE = "#ffa500"
MAGENTA = "#ff1aff"
GRAY = "#8a8a8a"
TICK_FS = 19.5

fig = plt.figure(figsize=(13.74, 9.44), dpi=100)
col_left = [85 / 1374, 771 / 1374]
col_w = [583 / 1374, 582 / 1374]
row_bottom = [1 - 283 / 944, 1 - 593 / 944, 1 - 903 / 944]
row_h = [268 / 944, 265 / 944, 264 / 944]

panels = [
    (obs_a, out_a, blue_a_yr, blue_a, red_a_yr, red_a, None, None, None, None, breaks_a),
    (obs_b, out_b, blue_b_yr, blue_b, red_b_yr, red_b, green_b_yr, green_b, orange_b_yr, orange_b, breaks_b),
    (obs_c, out_c, blue_c_yr, blue_c, red_c_yr, red_c, None, None, None, None, breaks_c),
    (obs_d, out_d, blue_d_yr, blue_d, red_d_yr, red_d, None, None, None, None, breaks_d),
    (obs_e, out_e, blue_e_yr, blue_e, red_e_yr, red_e, green_e_yr, green_e, orange_e_yr, orange_e, breaks_e),
    (obs_f, out_f, blue_f_yr, blue_f, red_f_yr, red_f, None, None, None, None, breaks_f),
]
# horizontal nudge (pixels) of the year labels so the end labels sit inside the frame
label_nudge = {1980: 4, 1990: 0, 2000: 0, 2010: -11}

for i, (obs, out, byr, bval, ryr, rval, gyr, gval, oyr, oval, brk) in enumerate(panels):
    r, c = divmod(i, 2)
    ax = fig.add_axes([col_left[c], row_bottom[r], col_w[c], row_h[r]])

    # outlying measurements: open grey circles
    ox = [p[0] for p in out]
    oy = [p[1] for p in out]
    oe = [p[2] for p in out]
    ax.errorbar(ox, oy, yerr=oe, fmt="o", ms=9, mfc="none", mec=GRAY, mew=1.3,
                ecolor=GRAY, elinewidth=1.4, capsize=4, capthick=1.4, zorder=2)

    # retained measurements: black dots with error bars
    x = [p[0] for p in obs]
    y = [p[1] for p in obs]
    e = [p[2] for p in obs]
    ax.errorbar(x, y, yerr=e, fmt="none", ecolor="black", elinewidth=2.0,
                capsize=4.8, capthick=2.0, zorder=3)
    sns.scatterplot(x=x, y=y, ax=ax, color="black", s=68, linewidth=0, zorder=3,
                    legend=False)

    # fitted trends
    if gyr is not None:
        sns.lineplot(x=gyr, y=gval, ax=ax, color=GREEN, lw=5, sort=False,
                     estimator=None, zorder=4, legend=False)
        sns.lineplot(x=oyr, y=oval, ax=ax, color=ORANGE, lw=5, sort=False,
                     estimator=None, zorder=4, legend=False)
    sns.lineplot(x=ryr, y=rval, ax=ax, color=RED, lw=6.5, sort=False,
                 estimator=None, zorder=5, legend=False)
    sns.lineplot(x=byr, y=bval, ax=ax, color=BLUE, lw=5.5, sort=False,
                 estimator=None, zorder=6, legend=False)
    for yr, lo, hi in brk:
        ax.vlines(yr, lo, hi, color=MAGENTA, lw=3.2, zorder=7)

    ax.set_xlim(1980, 2010)
    ax.set_ylim(*ylims[i])
    ax.set_xticks(year_ticks)
    ax.xaxis.set_minor_locator(MultipleLocator(1))
    ax.xaxis.set_major_formatter(NullFormatter())
    ax.yaxis.set_major_locator(MultipleLocator(ymajor[i]))
    ax.yaxis.set_minor_locator(MultipleLocator(yminor[i]))
    ax.yaxis.set_major_formatter(FormatStrFormatter("%.1f"))
    ax.tick_params(which="both", direction="in", top=True, right=True,
                   labelsize=TICK_FS, width=1.6, color="black")
    ax.tick_params(axis="x", which="major", length=17)
    ax.tick_params(axis="x", which="minor", length=8)
    ax.tick_params(axis="y", which="major", length=12, pad=7)
    ax.tick_params(axis="y", which="minor", length=5)
    for s in ax.spines.values():
        s.set_linewidth(2.2)
        s.set_color("black")

    # year labels under the frame
    xform = mtrans.blended_transform_factory(ax.transData, ax.transAxes)
    for yr, lab in zip(year_ticks, year_labels):
        off = mtrans.ScaledTranslation(label_nudge[yr] / 100, 0, fig.dpi_scale_trans)
        ax.text(yr, -0.025, lab, transform=xform + off, fontsize=TICK_FS,
                ha="center", va="top", clip_on=False)

    ax.set_ylabel("H$_2$O (ppmv)", fontsize=21.5, labelpad=4)
    ax.set_xlabel("Year", fontsize=19)
    ax.xaxis.set_label_coords(0.5, -0.11)
    ax.xaxis.label.set_va("center")
    ax.text(0.04, 0.885, titles[i], transform=ax.transAxes, fontsize=19.5,
            fontweight="bold", ha="left", va="center", zorder=10)

fig.savefig("out.png", dpi=100)
